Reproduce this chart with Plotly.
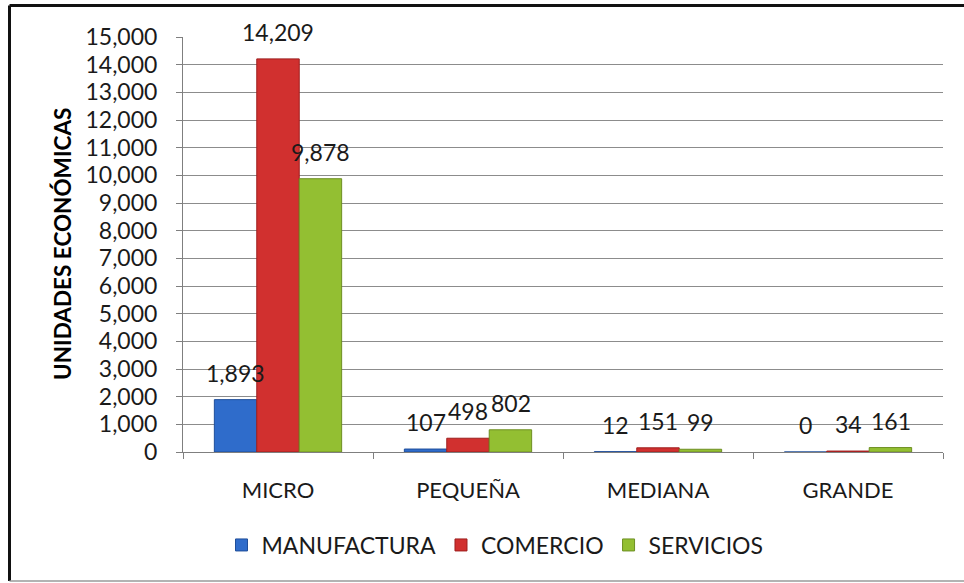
import plotly.graph_objects as go

categories = ["MICRO", "PEQUEÑA", "MEDIANA", "GRANDE"]
series_names = ["MANUFACTURA", "COMERCIO", "SERVICIOS"]
manufactura = [1893, 107, 12, 0]
comercio = [14209, 498, 151, 34]
servicios = [9878, 802, 99, 161]
y_ticks = list(range(0, 15001, 1000))

values = [manufactura, comercio, servicios]
colors = ["#2F6CCB", "#D1302F", "#93BF32"]
edge_colors = ["#1F4E9A", "#9E1E1E", "#6E8F22"]

FONT = "Lato"
TXT = "#1a1a1a"

fig = go.Figure()
for name, vals, c, ec in zip(series_names, values, colors, edge_colors):
    fig.add_trace(go.Bar(
        x=categories, y=vals, name=name,
        marker=dict(color=c, line=dict(color=ec, width=1)),
    ))

# data labels (Excel "outside end" style, slightly raised)
bar_px = 42.5
for i, vals in enumerate(values):
    for cat, v in zip(categories, vals):
        fig.add_annotation(
            x=cat, y=v, xref="x", yref="y",
            text=f"{v:,}", showarrow=False,
            xshift=(i - 1) * bar_px, yshift=11,
            yanchor="bottom",
            font=dict(family=FONT, size=23, color=TXT),
        )

L, R, T, B = 183, 21, 37, 131
W, H = 964, 583
pw, ph = W - L - R, H - T - B

def px_x(p):
    return (p - L) / pw

def px_y(p):
    return (H - B - p) / ph

# y-axis title
fig.add_annotation(
    x=px_x(63), y=px_y(244), xref="paper", yref="paper",
    xanchor="center", yanchor="middle",
    text="<b>UNIDADES ECONÓMICAS</b>", textangle=-90, showarrow=False,
    font=dict(family=FONT, size=22.5, color="#000000"),
)

# chart frame (border)
fig.add_shape(type="line", xref="paper", yref="paper",
              x0=px_x(9.5), x1=px_x(964), y0=px_y(5.5), y1=px_y(5.5),
              line=dict(color="#111111", width=3))
fig.add_shape(type="line", xref="paper", yref="paper",
              x0=px_x(9.5), x1=px_x(9.5), y0=px_y(5.5), y1=px_y(581),
              line=dict(color="#111111", width=3))
fig.add_shape(type="line", xref="paper", yref="paper",
              x0=px_x(9.5), x1=px_x(964), y0=px_y(581), y1=px_y(581),
              line=dict(color="#9a9a9a", width=1.5))

fig.update_layout(
    width=W, height=H,
    margin=dict(l=L, r=R, t=T, b=B, pad=0),
    paper_bgcolor="white", plot_bgcolor="white",
    barmode="group", bargap=0.33, bargroupgap=0,
    font=dict(family=FONT, color=TXT),
    showlegend=True,
    legend=dict(
        orientation="h", x=px_x(495), xanchor="center",
        y=px_y(545), yanchor="middle",
        font=dict(family=FONT, size=23, color=TXT),
        itemwidth=30, tracegroupgap=0,
        bgcolor="rgba(0,0,0,0)",
    ),
)
fig.update_xaxes(
    type="category", tickson="boundaries", ticks="outside", ticklen=6,
    tickcolor="#7f7f7f", showline=True, linecolor="#7f7f7f", linewidth=1,
    showgrid=False, tickfont=dict(family=FONT, size=22, color=TXT),
    ticklabelstandoff=19,
)
fig.update_yaxes(
    range=[0, 15000], tickvals=y_ticks, ticktext=[f"{v:,}" for v in y_ticks],
    ticks="outside", ticklen=6, tickcolor="#7f7f7f",
    showline=True, linecolor="#7f7f7f", linewidth=1,
    showgrid=True, gridcolor="#8c8c8c", gridwidth=1,
    zeroline=False,
    tickfont=dict(family=FONT, size=23, color=TXT),
    ticklabelstandoff=14,
)

fig.write_html(
    "out.html",
    config={"displayModeBar": False},
    post_script="document.body.style.margin='0';document.body.style.overflow='hidden';",
)
